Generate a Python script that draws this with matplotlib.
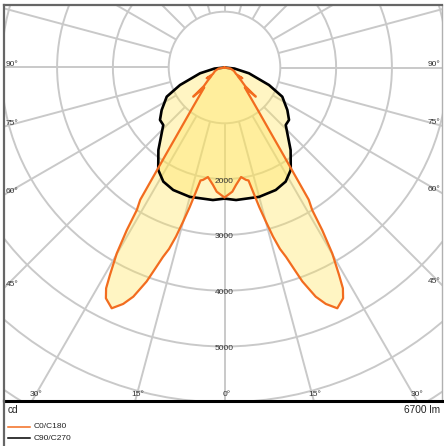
import numpy as np
import matplotlib
matplotlib.use("Agg")
import matplotlib.pyplot as plt
from matplotlib.patches import Circle
from matplotlib.lines import Line2D

# ---------------- data ----------------
gamma_c0 = [0, 3.6, 5.6, 8.6, 10.8, 12, 13, 14, 15, 16, 17, 18, 19, 20, 21.7, 23.2,
            25.1, 27.2, 28.2, 28.9, 30.1, 31, 31.6, 32.5, 34.2, 35, 38, 40, 44, 45.5,
            47, 48, 52, 57, 59, 60.5, 70, 80, 90]
cd_c0 = [2330, 2230, 2115, 1985, 2050, 2070, 2300, 2580, 2850, 3150, 3400, 3570, 3810,
         4080, 4420, 4610, 4765, 4650, 4490, 4250, 3850, 3400, 3000, 2810, 1790, 1515,
         975, 784, 560, 510, 766, 500, 380, 280, 373, 240, 180, 110, 0]

gamma_c90 = [0, 5, 15, 22.7, 28.2, 32.9, 38.7, 43.7, 46.8, 50.9, 55.9, 63.2, 68.5,
             76.7, 84, 90]
cd_c90 = [2350, 2384, 2400, 2380, 2320, 2186, 1895, 1630, 1505, 1490, 1360, 1160, 857,
          450, 180, 0]

ring_values = [1000, 2000, 3000, 4000, 5000, 6000, 7000, 8000, 9000]
ring_labels = [2000, 3000, 4000, 5000]
side_angles = [90, 75, 60, 45]
bottom_angles = [-30, -15, 0, 15, 30]
series_names = ["C0/C180", "C90/C270"]
unit_label = "cd"
flux_label = "6700 lm"

# ---------------- layout ----------------
W, H = 444, 446
CX, CY = 224.5, 67.5          # pole position in pixels
S = 55.8 / 1000.0             # pixels per cd
L, R, T, B = 4, 442, 5, 401   # frame in pixels

ORANGE = "#F26C1F"
GRID = "#c9c9c9"
FILL = "#FFE45A"
FONT = ["Liberation Sans", "DejaVu Sans"]
plt.rcParams["font.family"] = FONT

fig = plt.figure(figsize=(W / 100, H / 100), dpi=100)
ax = fig.add_axes([L / W, (H - B) / H, (R - L) / W, (B - T) / H])
ax.set_xlim(-(CX - L) / S, (R - CX) / S)
ax.set_ylim(-(B - CY) / S, (CY - T) / S)
ax.set_xticks([])
ax.set_yticks([])
for side, sp in ax.spines.items():
    sp.set_color("#666666")
    sp.set_linewidth(1.6)
ax.spines["right"].set_color("#b0b0b0")
ax.spines["right"].set_linewidth(1.0)
ax.spines["bottom"].set_color("black")
ax.spines["bottom"].set_linewidth(2.2)

# grid circles
for v in ring_values:
    ax.add_patch(Circle((0, 0), v, fill=False, ec=GRID, lw=1.4, zorder=1))
# radial lines every 15 deg, starting at the first ring
for a in range(0, 360, 15):
    t = np.radians(a)
    ax.plot([ring_values[0] * np.sin(t), 12000 * np.sin(t)],
            [-ring_values[0] * np.cos(t), -12000 * np.cos(t)],
            color=GRID, lw=1.4, zorder=1, solid_capstyle="butt")


def curve(gam, val):
    g = np.radians(np.concatenate([-np.array(gam)[::-1], np.array(gam)[1:]]))
    v = np.concatenate([np.array(val)[::-1], np.array(val)[1:]])
    return v * np.sin(g), -v * np.cos(g)


x90, y90 = curve(gamma_c90, cd_c90)
x0, y0 = curve(gamma_c0, cd_c0)
ax.fill(x90, y90, color=FILL, alpha=0.36, lw=0, zorder=2)
ax.fill(x0, y0, color=FILL, alpha=0.36, lw=0, zorder=2)
ax.plot(x90, y90, color="black", lw=1.9, zorder=3, solid_joinstyle="round")
ax.plot(x0, y0, color=ORANGE, lw=1.6, zorder=4, solid_joinstyle="round")

# ring value labels
for v in ring_labels:
    ax.text(0, -v - 2 / S, f"{v}", ha="center", va="center", fontsize=6,
            color="#333333", zorder=5)

# angle labels on the sides
px = 1 / S
for a in side_angles:
    xl = -(CX - L) / S
    yv = -abs(xl) / np.tan(np.radians(a)) + 3.5 * px
    ax.text(xl + 2 * px, yv, f"{a}°", ha="left", va="center", fontsize=6, color="#333333")
    xr = (R - CX) / S
    yv = -abs(xr) / np.tan(np.radians(a)) + 3.5 * px
    ax.text(xr - 1.5 * px, yv, f"{a}°", ha="right", va="center", fontsize=6, color="#333333")
# angle labels at the bottom
yb = -(B - CY) / S
for a in bottom_angles:
    xv = -yb * np.tan(np.radians(a)) * -1 if a < 0 else abs(yb) * np.tan(np.radians(a))
    xv = abs(yb + 3 * px) * np.tan(np.radians(a))
    ax.text(xv + 2 * px, yb + 6 * px, f"{abs(a)}°", ha="center", va="center", fontsize=6,
            color="#333333")

# footer
fig.add_artist(Line2D([L / W, L / W], [0, (H - B) / H], color="#666666", lw=1.6))
fig.text(8 / W, 1 - 410 / H, unit_label, ha="left", va="center", fontsize=7.3, color="#222222")
fig.text(440 / W, 1 - 410 / H, flux_label, ha="right", va="center", fontsize=7.3, color="#222222")
for name, col, yy in [(series_names[0], ORANGE, 427), (series_names[1], "black", 438)]:
    fig.add_artist(Line2D([8 / W, 30 / W], [1 - yy / H] * 2, color=col, lw=1.1))
    fig.text(34 / W, 1 - yy / H, name, ha="left", va="center", fontsize=6, color="#222222")

fig.savefig("out.png", dpi=100)
